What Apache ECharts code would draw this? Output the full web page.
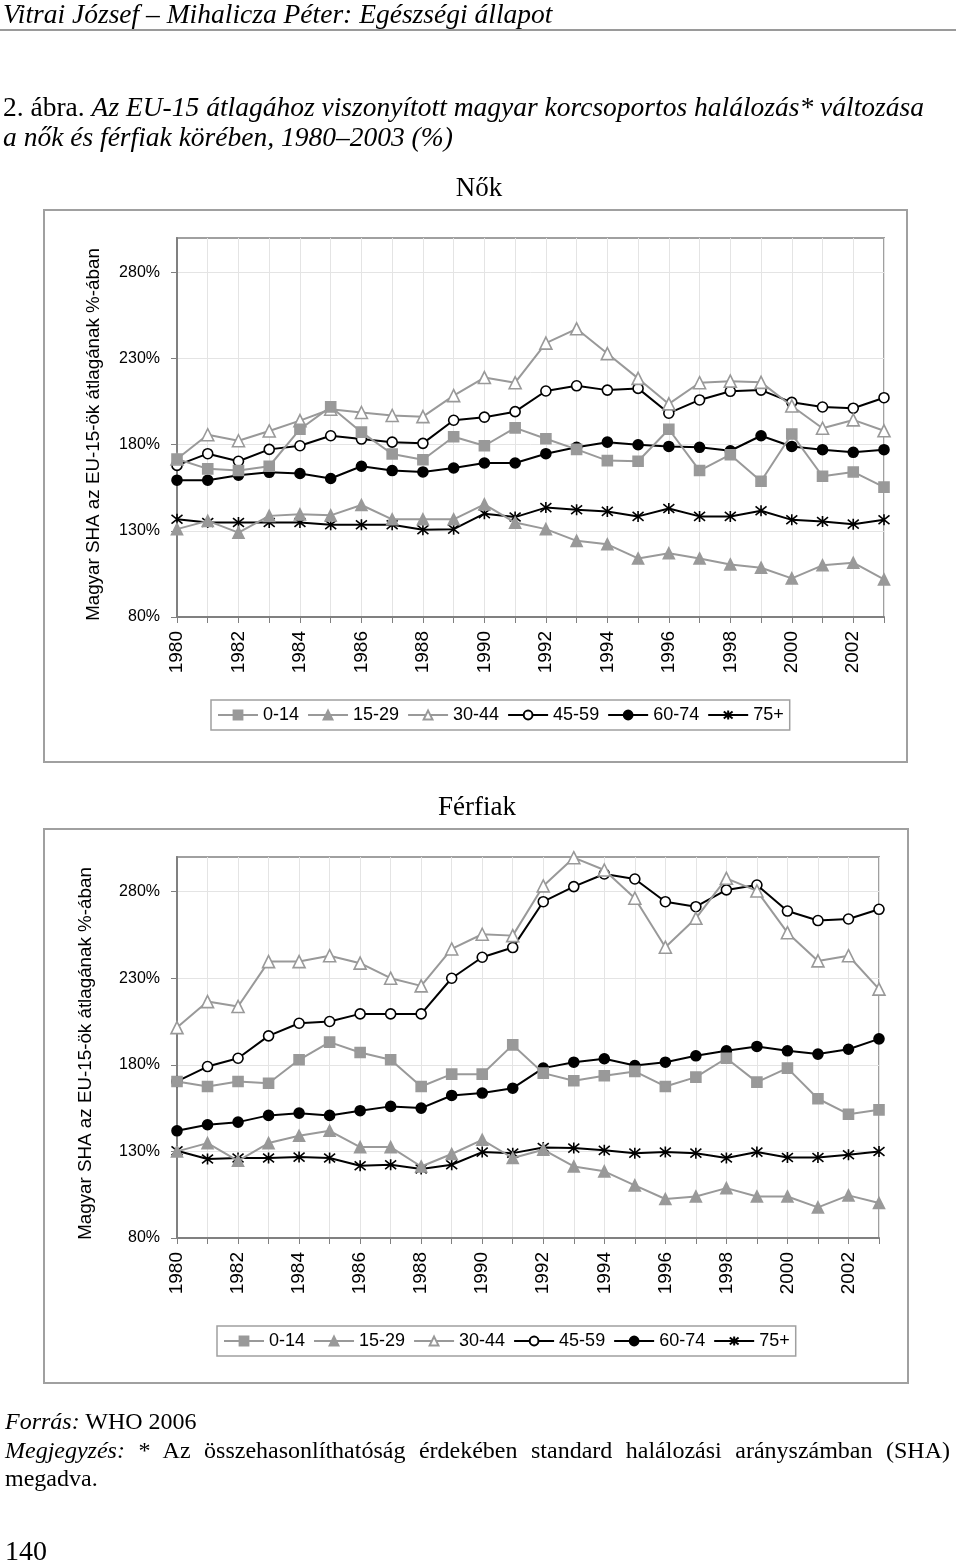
<!DOCTYPE html>
<html>
<head>
<meta charset="utf-8">
<script src="https://cdn.jsdelivr.net/npm/echarts@6/dist/echarts.min.js"></script>
<style>
  html, body { margin:0; padding:0; background:#fff; }
  #wrap { position:relative; width:960px; height:1565px; overflow:hidden; }
  #chart { position:absolute; left:0; top:0; width:960px; height:1565px; }
  .t { position:absolute; font-family:'Liberation Serif', 'Times New Roman', serif; color:#000; white-space:nowrap; line-height:1; }
  .i { font-style:italic; }
</style>
</head>
<body>
<div id="wrap">
  <div id="chart"></div>
  <div class="t i" style="left:3px; top:0px; font-size:27.5px;">Vitrai József – Mihalicza Péter: Egészségi állapot</div>
  <div style="position:absolute; left:0; top:29px; width:956px; height:2px; background:#9a9a9a;"></div>
  <div class="t" style="left:3px; top:93px; font-size:27.5px;">2. ábra. <span class="i">Az EU-15 átlagához viszonyított magyar korcsoportos halálozás* változása</span></div>
  <div class="t i" style="left:3px; top:123px; font-size:27.5px;">a nők és férfiak körében, 1980–2003 (%)</div>
  <div class="t" style="left:5px; top:1409px; font-size:24px;"><span class="i">Forrás:</span> WHO 2006</div>
  <div class="t" style="left:5px; top:1438px; width:945px; font-size:24px; text-align:justify; text-align-last:justify; white-space:normal;"><span class="i">Megjegyzés:</span> * Az összehasonlíthatóság érdekében standard halálozási arányszámban (SHA)</div>
  <div class="t" style="left:5px; top:1466px; font-size:24px;">megadva.</div>
  <div class="t" style="left:5px; top:1537px; font-size:28px;">140</div>
</div>
<script>
// ---- data ----
const years = ['1980','1981','1982','1983','1984','1985','1986','1987','1988','1989','1990','1991',
               '1992','1993','1994','1995','1996','1997','1998','1999','2000','2001','2002','2003'];
const seriesNames = ['0-14','15-29','30-44','45-59','60-74','75+'];
const yTicks = [80,130,180,230,280];
const chartTitles = ['Nők','Férfiak'];
const yAxisTitle = 'Magyar SHA az EU-15-ök átlagának %-ában';

// Nők (women)
const nok_0_14  = [171.7,166,165,167.5,189,202,187.3,174.6,171.3,184.6,179.4,189.8,183.5,177.3,170.8,170.4,189,165,174.2,158.8,186.2,161.7,164.2,155.4];
const nok_15_29 = [131,135.8,129,138.7,139.6,139,145,136.7,136.7,136.7,145.4,134.8,131,124.2,122.2,114,117,114,110.5,108.6,102.4,110,111.5,101.8];
const nok_30_44 = [171.7,185.8,182.3,188,194,200.6,198.7,197,196.3,208.5,219,216,239,247.3,232.9,218.5,203.7,216,216.9,216.2,202.5,189.6,194.4,188.1];
const nok_45_59 = [168,174.8,170.4,177.3,179.4,185.2,183.3,181.5,180.8,194.2,196,199.2,211.2,214.2,211.7,212.7,198.3,206,211,211.7,204.6,201.9,201.2,207.3];
const nok_60_74 = [159.4,159.4,162.3,164,163.3,160.4,167.5,165,164.2,166.5,169.4,169.4,174.8,178.5,181.5,180,179,178.5,176.5,185.2,179,177.1,175.6,177.1];
const nok_75    = [136.7,134.8,134.8,134.8,134.8,133.5,133.5,133.5,130.6,131,140,138,143.5,142.3,141.3,138.4,143,138.4,138.4,141.7,136.4,135.4,133.9,136.4];

// Férfiak (men)
const ffi_0_14  = [170.4,167.5,170.4,169.4,182.9,193.1,187.1,182.9,167.5,174.6,174.6,191.5,175.2,170.8,173.7,176.2,167.5,172.9,183.8,170,178.1,160.4,151.5,154];
const ffi_15_29 = [130,134.8,124.6,134.8,139,141.9,132.5,132.5,121.3,128.5,136.7,126.2,131,121.3,118.5,110.4,102.5,104,108.8,104,104,97.7,104.6,100.2];
const ffi_30_44 = [201.5,216.5,213.7,239.6,239.6,243,238.7,230,225.6,246.9,255.4,254.6,283.3,299.6,292.5,276.2,247.9,264.6,287.7,280.4,256.3,240,243,223.7];
const ffi_45_59 = [170.4,179,183.8,196.7,204,205,209.4,209.4,209.4,230,242.1,247.7,274.2,282.9,290.2,287.3,274.2,271.3,281,283.8,268.8,263.3,264.2,269.8];
const ffi_60_74 = [141.9,145.4,146.9,150.8,152.1,150.8,153.5,156,155,162.3,163.7,166.5,178.1,181.5,183.5,179.6,181.5,185.2,188.1,190.6,188.1,186.2,189,195];
const ffi_75    = [130.4,125.6,126.2,126.2,126.7,126.2,121.7,122.3,119.8,122.3,129.6,129,132.3,131.9,130.6,129,129.6,129,126.2,129.6,126.5,126.5,128.1,130];

const nokData = [nok_0_14, nok_15_29, nok_30_44, nok_45_59, nok_60_74, nok_75];
const ffiData = [ffi_0_14, ffi_15_29, ffi_30_44, ffi_45_59, ffi_60_74, ffi_75];

// ---- styles ----
const GRAY = '#999999';
const BLACK = '#000000';
const ASTER = 'path://M-1,-1L1,1M-1,1L1,-1M0,-1.25L0,1.25';
const styles = [
  {color:GRAY,  symbol:'rect',     size:10, fill:GRAY,  border:GRAY},
  {color:GRAY,  symbol:'triangle', size:11, fill:GRAY,  border:GRAY},
  {color:GRAY,  symbol:'triangle', size:12, fill:'#fff',border:GRAY},
  {color:BLACK, symbol:'circle',   size:10, fill:'#fff',border:BLACK},
  {color:BLACK, symbol:'circle',   size:10, fill:BLACK, border:BLACK},
  {color:BLACK, symbol:ASTER,      size:11, fill:'none',border:BLACK}
];

function makeSeries(dataSets, idx) {
  return dataSets.map((d, i) => {
    const s = styles[i];
    return {
      name: seriesNames[i], type:'line', xAxisIndex: idx, yAxisIndex: idx,
      data: d, symbol: s.symbol, symbolSize: s.size, showAllSymbol: true,
      lineStyle: {color: s.color, width: 2},
      itemStyle: {color: s.fill, borderColor: s.border, borderWidth: 1.6},
      z: 10 - i
    };
  });
}

const grids = [
  {left:177, top:238, width:707, height:379},
  {left:177, top:857, width:702, height:381}
];

function xAxisCfg(idx) {
  return {
    type:'category', gridIndex: idx, data: years, boundaryGap:false,
    axisLine:{show:true, lineStyle:{color:'#808080', width:2}},
    axisTick:{show:true, interval:0, length:6, lineStyle:{color:'#808080', width:1}},
    axisLabel:{interval:1, rotate:90, fontSize:19, color:'#000', margin:14, fontFamily:'Liberation Sans'},
    splitLine:{show:true, interval:0, lineStyle:{color:'#e4e4e4', width:1}}
  };
}
function yAxisCfg(idx, gap, shift) {
  return {
    type:'value', gridIndex: idx, min:80, max:300, interval:50,
    axisLine:{show:true, lineStyle:{color:'#808080', width:2}},
    axisTick:{show:true, length:6, customValues: yTicks, lineStyle:{color:'#808080'}},
    axisLabel:{formatter:'{value}%', fontSize:16, color:'#000', margin:17, customValues: yTicks, fontFamily:'Liberation Sans'},
    splitLine:{show:true, lineStyle:{color:'#e4e4e4', width:1}},
    name: yAxisTitle, nameLocation:'middle', nameGap: gap, nameRotate: 90,
    nameTextStyle:{fontSize:18.8, color:'#000', fontFamily:'Liberation Sans', padding:[0, shift, 0, 0]}
  };
}
function legendCfg(left, top) {
  return {
    data: seriesNames, left: left, top: top, orient:'horizontal',
    borderColor:'#a0a0a0', borderWidth:1.5, padding:[6,6,6,6],
    itemWidth:40, itemHeight:11, itemGap:8,
    textStyle:{fontSize:18, color:'#000', fontFamily:'Liberation Sans'},
    selectedMode:false
  };
}

const chart = echarts.init(document.getElementById('chart'), null, {renderer:'canvas'});
chart.setOption({
  animation:false,
  backgroundColor:'#fff',
  textStyle:{fontFamily:'Liberation Sans'},
  grid: grids.map(g => Object.assign({show:true, borderColor:'#a0a0a0', borderWidth:2, backgroundColor:'transparent'}, g)),
  xAxis: [xAxisCfg(0), xAxisCfg(1)],
  yAxis: [yAxisCfg(0, 74, 14), yAxisCfg(1, 82, 12)],
  legend: [legendCfg(211, 700), legendCfg(217, 1326)],
  title: [
    {text: chartTitles[0], left: 474, top: 170, textAlign:'center', textStyle:{fontFamily:'Liberation Serif', fontSize:27, fontWeight:'normal', color:'#000'}},
    {text: chartTitles[1], left: 472, top: 789, textAlign:'center', textStyle:{fontFamily:'Liberation Serif', fontSize:27, fontWeight:'normal', color:'#000'}}
  ],
  graphic: [
    {type:'rect', shape:{x:44, y:210, width:863, height:552}, style:{fill:'none', stroke:'#a0a0a0', lineWidth:2}, z:-1},
    {type:'rect', shape:{x:44, y:829, width:864, height:554}, style:{fill:'none', stroke:'#a0a0a0', lineWidth:2}, z:-1}
  ],
  series: [...makeSeries(nokData, 0), ...makeSeries(ffiData, 1)]
});
</script>
</body>
</html>
